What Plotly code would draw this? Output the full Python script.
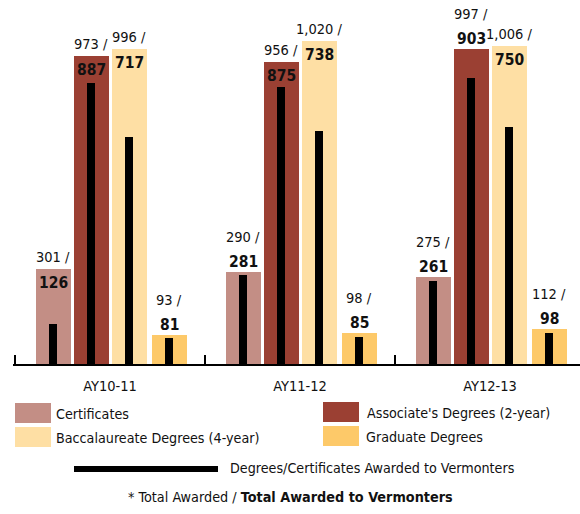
import plotly.graph_objects as go

# ---------------- data ----------------
categories = ["AY10-11", "AY11-12", "AY12-13"]
series_names = ["Certificates", "Associate's Degrees (2-year)",
                "Baccalaureate Degrees (4-year)", "Graduate Degrees"]
total_cert = [301, 290, 275]
total_assoc = [973, 956, 997]
total_bacc = [996, 1020, 1006]
total_grad = [93, 98, 112]
vt_cert = [126, 281, 261]
vt_assoc = [887, 875, 903]
vt_bacc = [717, 738, 750]
vt_grad = [81, 85, 98]

totals = [total_cert, total_assoc, total_bacc, total_grad]
vermont = [vt_cert, vt_assoc, vt_bacc, vt_grad]

# ---------------- style ----------------
colors = ["#C38E85", "#9B4033", "#FEDFA4", "#FDC969"]
FONT = "DejaVu Sans Condensed, Liberation Sans Narrow, sans-serif"
TXT = "#111111"
bar_w = 0.185
bar_off = [-0.39, -0.19, 0.01, 0.22]
inner_w = 0.042
# label placement: True = bold number sits inside bar top
label_inside = [[True, False, False],
                [True, True, False],
                [True, True, True],
                [False, False, False]]

W, H = 580, 514
ML, MR, MT, MB = 13, 0, 16, 150
PW, PH = W - ML - MR, H - MT - MB
UNIT = 190.0
R0 = -0.5 - 2 / UNIT


def px(xp):
    return (xp - ML) / PW


def py(yp):
    return (H - MB - yp) / PH


fig = go.Figure()
for s in range(4):
    fig.add_trace(go.Bar(x=categories, y=totals[s], width=bar_w, offset=bar_off[s],
                         marker=dict(color=colors[s], line=dict(width=0)),
                         name=series_names[s], showlegend=False, hoverinfo="y"))
for s in range(4):
    fig.add_trace(go.Bar(x=categories, y=vermont[s], width=inner_w,
                         offset=bar_off[s] + bar_w / 2 - inner_w / 2,
                         marker=dict(color="black", line=dict(width=0)),
                         name="Degrees/Certificates Awarded to Vermonters",
                         showlegend=False, hoverinfo="y"))

ann = []
for s in range(4):
    for i in range(3):
        xc = i + bar_off[s] + bar_w / 2
        inside = label_inside[s][i]
        ann.append(dict(x=xc, y=totals[s][i], xref="x", yref="y",
                        text=f"{totals[s][i]:,} /", showarrow=False,
                        yanchor="middle", yshift=12 if inside else 35,
                        font=dict(family=FONT, size=14.5, color=TXT)))
        ann.append(dict(x=xc, y=totals[s][i], xref="x", yref="y",
                        text=f"<b>{vermont[s][i]:,}</b>", showarrow=False,
                        yanchor="middle", yshift=-14 if inside else 10,
                        font=dict(family=FONT, size=15.5, color=TXT)))

# manual legend
LF = 14.2
shapes = []
leg = [(0, 15, 403, 54, 414), (2, 15, 427, 54, 438),
       (1, 323, 402, 365, 413), (3, 323, 426, 364, 437)]
for s, x0, y0, tx, ty in leg:
    shapes.append(dict(type="rect", xref="paper", yref="paper",
                       x0=px(x0), x1=px(x0 + 36), y0=py(y0), y1=py(y0 + 20),
                       fillcolor=colors[s], line=dict(width=0)))
    ann.append(dict(x=px(tx), y=py(ty), xref="paper", yref="paper", text=series_names[s],
                    showarrow=False, xanchor="left", yanchor="middle",
                    font=dict(family=FONT, size=LF, color=TXT)))
shapes.append(dict(type="line", xref="paper", yref="paper",
                   x0=px(74), x1=px(218), y0=py(469), y1=py(469),
                   line=dict(color="black", width=6)))
ann.append(dict(x=px(228), y=py(468), xref="paper", yref="paper",
                text="Degrees/Certificates Awarded to Vermonters",
                showarrow=False, xanchor="left", yanchor="middle",
                font=dict(family=FONT, size=LF, color=TXT)))
ann.append(dict(x=px(290), y=py(497), xref="paper", yref="paper",
                text="* Total Awarded / <b>Total Awarded to Vermonters</b>",
                showarrow=False, xanchor="center", yanchor="middle",
                font=dict(family=FONT, size=14.3, color=TXT)))

fig.update_layout(
    width=W, height=H, margin=dict(l=ML, r=MR, t=MT, b=MB),
    paper_bgcolor="white", plot_bgcolor="white",
    barmode="overlay", bargap=0,
    annotations=ann, shapes=shapes,
    xaxis=dict(type="category", range=[R0, R0 + PW / UNIT],
               showline=True, linecolor="black", linewidth=2,
               ticks="inside", tickson="boundaries", ticklen=9, tickwidth=2,
               tickcolor="black", showgrid=False, zeroline=False,
               ticklabelstandoff=8,
               tickfont=dict(family=FONT, size=14.5, color=TXT)),
    yaxis=dict(range=[0, 1100], visible=False, showgrid=False, zeroline=False),
)

fig.write_html("out.html", config={"displayModeBar": False},
               post_script="document.body.style.margin='0';document.body.style.overflow='hidden';")
